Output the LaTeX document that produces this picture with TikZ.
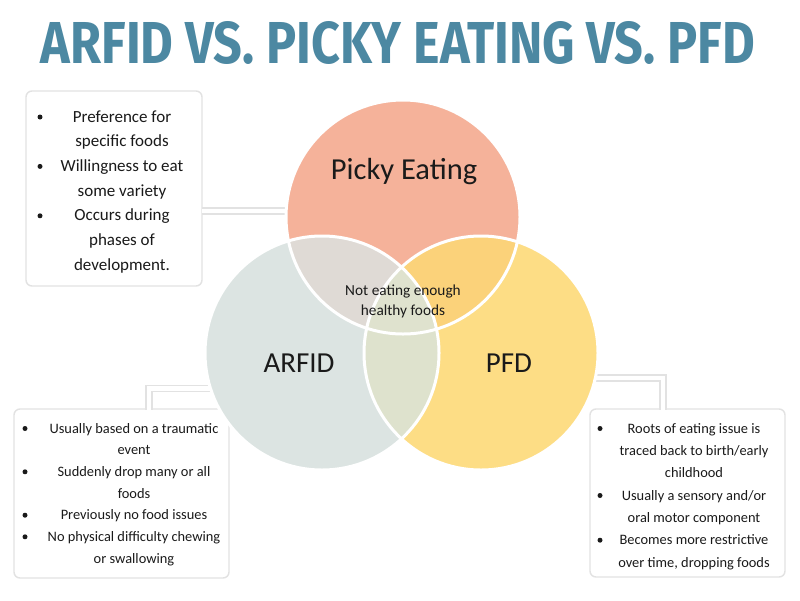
\documentclass[tikz,border=0pt]{standalone}
\usepackage{fontspec}
\usepackage{graphicx}
\setmainfont{Carlito}
\newfontfamily\titlefont{Fira Sans}
\definecolor{titleblue}{HTML}{4C88A2}
\definecolor{ink}{HTML}{1A1A1A}
\definecolor{framegray}{HTML}{E2E2E2}
\definecolor{pickycol}{HTML}{F5B29A}
\definecolor{arfidcol}{HTML}{DCE4E2}
\definecolor{pfdcol}{HTML}{FDDD85}
\definecolor{pkarcol}{HTML}{DFDAD5}
\definecolor{pkpfcol}{HTML}{FBD27A}
\definecolor{arpfcol}{HTML}{DEE2CD}
\definecolor{allcol}{HTML}{DFE2CE}
\tikzset{
  boxframe/.style={draw=framegray, line width=1.4pt, rounded corners=6pt, fill=white},
  link/.style={draw=framegray, line width=1.3pt, double=white, double distance=4.6pt},
  itemA/.style={anchor=base, inner sep=0pt, font=\fontsize{17}{20}\selectfont, text=ink},
  itemB/.style={anchor=base, inner sep=0pt, font=\fontsize{14.4}{17}\selectfont, text=ink},
  bul/.style={circle, fill=ink, inner sep=0pt, minimum size=5pt},
  bigtitle/.style={anchor=base, inner sep=0pt, text=titleblue},
  circlabel/.style={anchor=base, inner sep=0pt, text=ink},
}
\begin{document}
\begin{tikzpicture}[x=1pt,y=-1pt]
\useasboundingbox[fill=white] (0,0) rectangle (800,600);

% title
\node[bigtitle] (title) at (398,63) {\resizebox{714pt}{42pt}{\titlefont\bfseries ARFID VS. PICKY EATING VS. PFD}};

% circle centres
\coordinate (pk) at (403,217);
\coordinate (ar) at (322,353);
\coordinate (pf) at (481,353);

% info boxes
\draw[boxframe] (26,91) rectangle (202,286);
\draw[boxframe] (14,409) rectangle (229,578);
\draw[boxframe] (590,409) rectangle (785,577);

% connectors
\coordinate (lkA1) at (202,211);
\coordinate (lkA2) at (292,211);
\coordinate (lkB1) at (149,409.5);
\coordinate (lkB2) at (149,388.5);
\coordinate (lkB3) at (218,388.5);
\coordinate (lkC1) at (663,409.5);
\coordinate (lkC2) at (663,378);
\coordinate (lkC3) at (588,378);
\draw[link] (lkA1) -- (lkA2);
\draw[link] (lkB1) -- (lkB2) -- (lkB3);
\draw[link] (lkC1) -- (lkC2) -- (lkC3);

% circles
\fill[pickycol] (pk) circle (117pt);
\fill[arfidcol] (ar) circle (117pt);
\fill[pfdcol] (pf) circle (117pt);
\begin{scope}
  \clip (pk) circle (117pt);
  \fill[pkarcol] (ar) circle (117pt);
  \fill[pkpfcol] (pf) circle (117pt);
\end{scope}
\begin{scope}
  \clip (ar) circle (117pt);
  \fill[arpfcol] (pf) circle (117pt);
  \clip (pk) circle (117pt);
  \fill[allcol] (pf) circle (117pt);
\end{scope}
\draw[white, line width=3pt] (pk) circle (117pt);
\draw[white, line width=3pt] (ar) circle (117pt);
\draw[white, line width=3pt] (pf) circle (117pt);

% circle labels
\node[circlabel, font=\fontsize{30.5}{34}\selectfont] (lpk) at (404,179) {Picky Eating};
\node[circlabel, font=\fontsize{29}{33}\selectfont] (lar) at (299,372) {ARFID};
\node[circlabel, font=\fontsize{29}{33}\selectfont] (lpf) at (509,372) {PFD};
\node[circlabel, font=\fontsize{15.3}{18}\selectfont] (lall1) at (403,295) {Not eating enough};
\node[circlabel, font=\fontsize{15.3}{18}\selectfont] (lall2) at (403,315) {healthy foods};

% box 1 text
\foreach \t/\y [count=\i] in {Preference for/122, specific foods/146.7, Willingness to eat/171.4, some variety/196.1, Occurs during/220.8, phases of/245.5, development./270.2}
  \node[itemA] (ta\i) at (122,\y) {\t};
\foreach \y [count=\i] in {122,171.4,220.8}
  \node[bul] (ba\i) at (40,\y-5) {};

% box 2 text
\foreach \t/\y [count=\i] in {Usually based on a traumatic/433, event/454.7, Suddenly drop many or all/476.3, foods/498, Previously no food issues/519.7, No physical difficulty chewing/541.3, or swallowing/563}
  \node[itemB] (tb\i) at (134,\y) {\t};
\foreach \y [count=\i] in {433,476.3,519.7,541.3}
  \node[bul] (bb\i) at (25,\y-4.5) {};

% box 3 text
\foreach \t/\y [count=\i] in {Roots of eating issue is/433, {traced back to birth/early}/455.3, childhood/477.7, {Usually a sensory and/or}/500, oral motor component/522.3, Becomes more restrictive/544.7, {over time, dropping foods}/567}
  \node[itemB] (tc\i) at (694,\y) {\t};
\foreach \y [count=\i] in {433,500,544.7}
  \node[bul] (bc\i) at (600,\y-4.5) {};
\end{tikzpicture}
\end{document}
